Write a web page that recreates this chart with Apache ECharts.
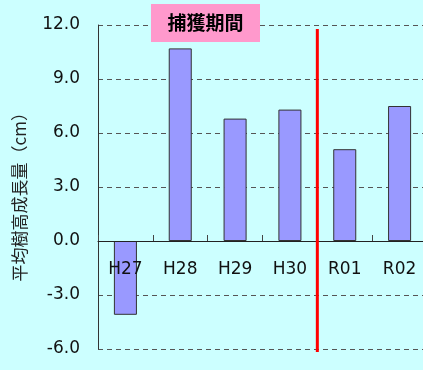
<!DOCTYPE html>
<html>
<head>
<meta charset="utf-8">
<script src="https://cdn.jsdelivr.net/npm/echarts@6/dist/echarts.min.js"></script>
<style>
  html, body { margin: 0; padding: 0; background: #CCFFFF; }
  #chart { width: 423px; height: 370px; }
</style>
</head>
<body>
<div id="chart"></div>
<script>
// 年度
const categories = ['H27', 'H28', 'H29', 'H30', 'R01', 'R02'];
// 平均樹高成長量 (cm)
const growth = [-4.1, 10.7, 6.8, 7.3, 5.1, 7.5];
// 縦軸の範囲と目盛り
const yMin = -6, yMax = 12, yStep = 3;
// 捕獲期間の終わり：この年度とその次の年度の境目に赤線を引く
const captureLastYear = 'H30';
const captureLabel = '捕獲期間';
const yTitle = '平均樹高成長量（cm）';

const chart = echarts.init(document.getElementById('chart'));
const baseFont = 'DejaVu Sans, Verdana, sans-serif';
const lastIdx = categories.indexOf(captureLastYear);

// プロット領域
const gridTop = 25, gridBottom = 21, gridLeft = 98, gridWidth = 329;
const gridHeight = 370 - gridTop - gridBottom;
// 横軸（目盛りとラベル）を 0 の位置へ持ち上げる量
const zeroOffset = -gridHeight * (0 - yMin) / (yMax - yMin);

chart.setOption({
  backgroundColor: '#CCFFFF',
  animation: false,
  grid: {
    left: gridLeft, top: gridTop, bottom: gridBottom, width: gridWidth,
    containLabel: false, outerBoundsMode: 'none'
  },
  xAxis: {
    type: 'category',
    data: categories,
    position: 'bottom',
    offset: zeroOffset,
    axisLine: { show: true, onZero: false, lineStyle: { color: '#222', width: 1 } },
    axisTick: { show: true, inside: true, length: 6, interval: 0, lineStyle: { color: '#444' } },
    axisLabel: { color: '#111', fontSize: 17, fontFamily: baseFont, margin: 20, interval: 0 },
    splitLine: { show: false },
    z: 5
  },
  yAxis: {
    type: 'value',
    min: yMin,
    max: yMax,
    interval: yStep,
    axisLine: { show: true, onZero: false, lineStyle: { color: '#333', width: 1 } },
    axisTick: { show: false },
    axisLabel: {
      color: '#111', fontSize: 17, fontFamily: baseFont, margin: 18,
      formatter: v => v.toFixed(1)
    },
    splitLine: { show: true, lineStyle: { color: '#555', type: [5, 4], width: 1 } }
  },
  series: [
    {
      type: 'bar',
      data: growth,
      barWidth: '42%',
      itemStyle: { color: '#9999FF', borderColor: '#333', borderWidth: 1 },
      z: 2
    },
    {
      // 捕獲期間の終わりを示す赤い縦線（年度の境目）
      type: 'custom',
      silent: true,
      clip: false,
      z: 6,
      data: [[lastIdx]],
      renderItem: function (params, api) {
        const i = api.value(0);
        const a = api.coord([i, yMax - 0.22]);
        const b = api.coord([i + 1, yMin - 0.17]);
        const x = (a[0] + b[0]) / 2;
        return {
          type: 'line',
          shape: { x1: x, y1: a[1], x2: x, y2: b[1] },
          style: { stroke: '#FF0000', lineWidth: 3 }
        };
      }
    }
  ],
  graphic: [
    {
      // 縦軸タイトル（下から上へ読む）
      type: 'text',
      left: 11,
      top: 104,
      rotation: Math.PI / 2,
      style: {
        text: yTitle,
        fill: '#222',
        font: '17px "Noto Sans CJK JP", sans-serif'
      }
    },
    {
      type: 'rect',
      shape: { x: 151, y: 4, width: 109, height: 38 },
      style: { fill: '#FF99CC' },
      z: 10
    },
    {
      type: 'text',
      x: 205.5,
      y: 23,
      style: {
        text: captureLabel,
        fill: '#000',
        font: 'bold 19px "Noto Sans CJK JP", sans-serif',
        align: 'center',
        verticalAlign: 'middle'
      },
      z: 11
    }
  ]
});
</script>
</body>
</html>
